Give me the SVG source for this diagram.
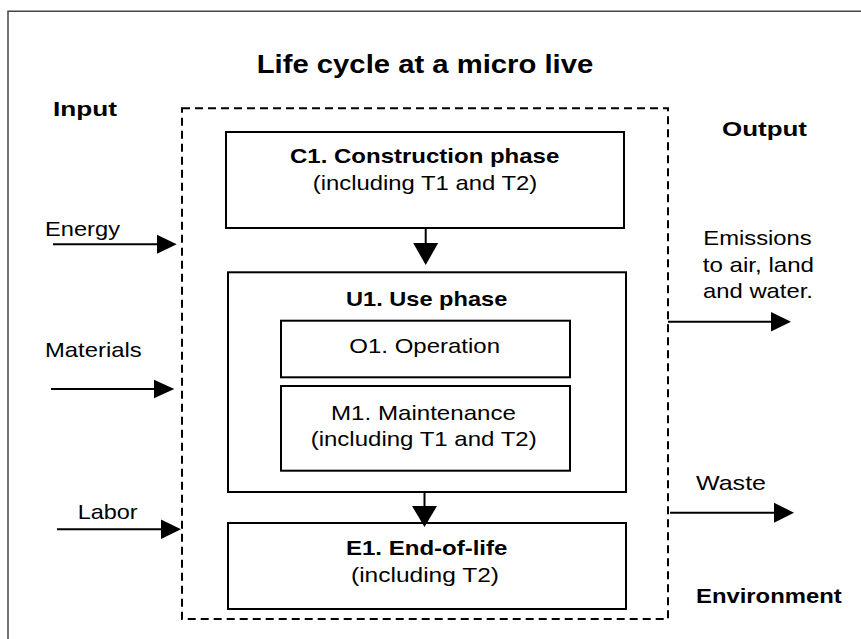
<svg xmlns="http://www.w3.org/2000/svg" width="861" height="639" viewBox="0 0 861 639">
  <style>
    text { font-family: "Liberation Sans", Arial, sans-serif; fill: #000; }
    .t { font-size: 21px; }
    .b { font-size: 21px; font-weight: bold; }
    .title { font-size: 26px; font-weight: bold; }
    .box { fill: #fff; stroke: #000; stroke-width: 2; }
    .edge { stroke: #000; stroke-width: 2; fill: none; }
    .head { fill: #000; stroke: none; }
    .frame { fill: none; stroke: #444; stroke-width: 1.5; }
    .system { fill: none; stroke: #000; stroke-width: 2; stroke-dasharray: 8 5; }
  </style>
  <rect width="861" height="639" fill="#fff"/>

  <!-- outer environment frame -->
  <path class="frame" d="M8 639 V11.3 H861"/>

  <!-- title -->
  <text class="title" x="256.7" y="73" textLength="336.6" lengthAdjust="spacingAndGlyphs">Life cycle at a micro live</text>

  <!-- system boundary -->
  <rect id="system-boundary" class="system" x="182" y="108.3" width="486" height="510.7"/>

  <!-- side labels -->
  <g id="labels">
    <text class="b" x="53" y="116" textLength="64" lengthAdjust="spacingAndGlyphs">Input</text>
    <text class="b" x="722" y="136" textLength="85" lengthAdjust="spacingAndGlyphs">Output</text>
    <text class="b" x="696" y="603.3" textLength="145.7" lengthAdjust="spacingAndGlyphs">Environment</text>
  </g>

  <g id="energy">
    <text class="t" x="45" y="236" textLength="75" lengthAdjust="spacingAndGlyphs">Energy</text>
  </g>
  <g id="materials">
    <text class="t" x="45" y="356.7" textLength="96.7" lengthAdjust="spacingAndGlyphs">Materials</text>
  </g>
  <g id="labor">
    <text class="t" x="77.7" y="519" textLength="60" lengthAdjust="spacingAndGlyphs">Labor</text>
  </g>
  <g id="emissions">
    <text class="t" x="703.3" y="245" textLength="108.4" lengthAdjust="spacingAndGlyphs">Emissions</text>
    <text class="t" x="702.7" y="271.5" textLength="111.3" lengthAdjust="spacingAndGlyphs">to air, land</text>
    <text class="t" x="703" y="298" textLength="110" lengthAdjust="spacingAndGlyphs">and water.</text>
  </g>
  <g id="waste">
    <text class="t" x="696" y="490" textLength="70" lengthAdjust="spacingAndGlyphs">Waste</text>
  </g>

  <!-- phases -->
  <g id="c1">
    <rect class="box" x="226" y="132" width="398" height="96"/>
    <text class="b" x="290" y="163" textLength="269.3" lengthAdjust="spacingAndGlyphs">C1. Construction phase</text>
    <text class="t" x="312.7" y="190" textLength="224.6" lengthAdjust="spacingAndGlyphs">(including T1 and T2)</text>
  </g>

  <g id="u1">
    <rect class="box" x="228" y="272.3" width="398" height="219.7"/>
    <text class="b" x="346" y="306" textLength="161.3" lengthAdjust="spacingAndGlyphs">U1. Use phase</text>
  </g>

  <g id="o1">
    <rect class="box" x="281" y="320.7" width="289" height="56.6"/>
    <text class="t" x="349.3" y="353.3" textLength="150.7" lengthAdjust="spacingAndGlyphs">O1. Operation</text>
  </g>

  <g id="m1">
    <rect class="box" x="281" y="386" width="289" height="84.7"/>
    <text class="t" x="331" y="420" textLength="185" lengthAdjust="spacingAndGlyphs">M1. Maintenance</text>
    <text class="t" x="310.7" y="446" textLength="226" lengthAdjust="spacingAndGlyphs">(including T1 and T2)</text>
  </g>

  <g id="e1">
    <rect class="box" x="228" y="523" width="398" height="86"/>
    <text class="b" x="346" y="555" textLength="161.4" lengthAdjust="spacingAndGlyphs">E1. End-of-life</text>
    <text class="t" x="351" y="582" textLength="148" lengthAdjust="spacingAndGlyphs">(including T2)</text>
  </g>

  <!-- connectors -->
  <g id="connectors">
    <line class="edge" x1="53" y1="244.3" x2="158" y2="244.3"/>
    <polygon class="head" points="157,234.8 176.7,244.3 157,253.8"/>

    <line class="edge" x1="51" y1="389" x2="155" y2="389"/>
    <polygon class="head" points="154,379.8 174.3,389 154,398.2"/>

    <line class="edge" x1="57" y1="529.3" x2="162" y2="529.3"/>
    <polygon class="head" points="161,519.6 181,529.3 161,539"/>

    <line class="edge" x1="668" y1="321.7" x2="772" y2="321.7"/>
    <polygon class="head" points="771,312 791,321.7 771,331.4"/>

    <line class="edge" x1="670" y1="512.7" x2="775" y2="512.7"/>
    <polygon class="head" points="774,502.7 794,512.7 774,522.7"/>

    <line class="edge" x1="425.7" y1="228" x2="425.7" y2="244"/>
    <polygon class="head" points="413.2,243 438.2,243 425.7,265"/>

    <line class="edge" x1="424.5" y1="492" x2="424.5" y2="507"/>
    <polygon class="head" points="412,506 437,506 424.5,527"/>
  </g>
</svg>
